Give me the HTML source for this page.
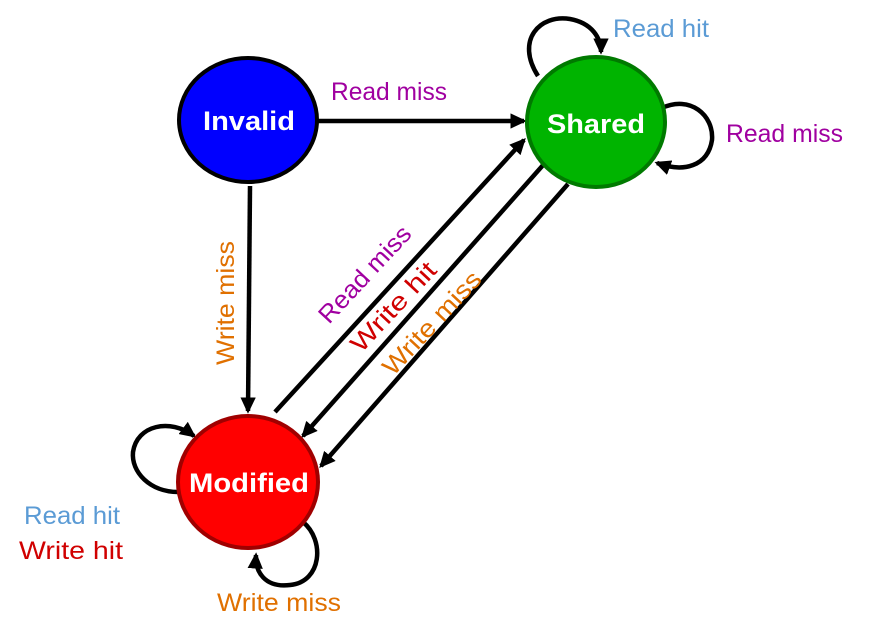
<!DOCTYPE html>
<html><head><meta charset="utf-8"><style>html,body{margin:0;padding:0;background:#fff}svg{display:block}</style></head>
<body>
<svg width="873" height="638" viewBox="0 0 873 638" xmlns="http://www.w3.org/2000/svg" font-family="Liberation Sans, sans-serif">
<defs>
<marker id="a" markerWidth="3.6" markerHeight="3.4" refX="3" refY="1.7" orient="auto" markerUnits="strokeWidth">
<path d="M0,0 L3.6,1.7 L0,3.4 Z" fill="#000"/></marker>
</defs>
<g stroke="#000" stroke-width="4.5" fill="none">
<line x1="318" y1="121" x2="524" y2="121" marker-end="url(#a)"/>
<line x1="250" y1="186" x2="248" y2="411" marker-end="url(#a)"/>
<line x1="275" y1="412" x2="524" y2="140" marker-end="url(#a)"/>
<line x1="544" y1="164" x2="303" y2="436" marker-end="url(#a)"/>
<line x1="568" y1="184" x2="321" y2="466" marker-end="url(#a)"/>
<path d="M538,76 C515,40 540,14 570,19 C592,23 601,38 601,52" marker-end="url(#a)"/>
<path d="M662,108 C690,95 714,115 712,140 C708,166 684,173 657,163" marker-end="url(#a)"/>
<path d="M178,492 C150,492 131,472 133,452 C137,425 170,418 194,436" marker-end="url(#a)"/>
<path d="M303,522 C325,540 322,582 290,585 C265,588 255,572 256,555" marker-end="url(#a)"/>
</g>
<ellipse cx="248" cy="120" rx="69" ry="62" fill="#0000ff" stroke="#000" stroke-width="4"/>
<ellipse cx="596" cy="122" rx="69" ry="65" fill="#00b400" stroke="#007a00" stroke-width="4"/>
<ellipse cx="248" cy="482" rx="70" ry="66" fill="#ff0000" stroke="#a00000" stroke-width="4"/>
<g fill="#fff" font-weight="bold" font-size="27" text-anchor="middle">
<text x="249" y="130" textLength="92" lengthAdjust="spacingAndGlyphs">Invalid</text>
<text x="596" y="133" textLength="98" lengthAdjust="spacingAndGlyphs">Shared</text>
<text x="249" y="492" textLength="120" lengthAdjust="spacingAndGlyphs">Modified</text>
</g>
<g font-size="25">
<text x="331" y="100" fill="#a000a0" textLength="116" lengthAdjust="spacingAndGlyphs">Read miss</text>
<text x="613" y="37" fill="#5b9bd5" textLength="96" lengthAdjust="spacingAndGlyphs">Read hit</text>
<text x="726" y="142" fill="#a000a0" textLength="117" lengthAdjust="spacingAndGlyphs">Read miss</text>
<text x="24" y="524" fill="#5b9bd5" textLength="96" lengthAdjust="spacingAndGlyphs">Read hit</text>
<text x="19" y="559" fill="#d00000" textLength="104" lengthAdjust="spacingAndGlyphs">Write hit</text>
<text x="217" y="611" fill="#e07000" textLength="124" lengthAdjust="spacingAndGlyphs">Write miss</text>
<text transform="translate(234,365) rotate(-90)" fill="#e07000" textLength="124" lengthAdjust="spacingAndGlyphs">Write miss</text>
<text transform="translate(329,325) rotate(-47)" fill="#a000a0" textLength="123" lengthAdjust="spacingAndGlyphs">Read miss</text>
<text transform="translate(361,354) rotate(-47)" fill="#d00000" textLength="113" lengthAdjust="spacingAndGlyphs">Write hit</text>
<text transform="translate(393,377) rotate(-47)" fill="#e07000" textLength="132" lengthAdjust="spacingAndGlyphs">Write miss</text>
</g>
</svg>
</body></html>
